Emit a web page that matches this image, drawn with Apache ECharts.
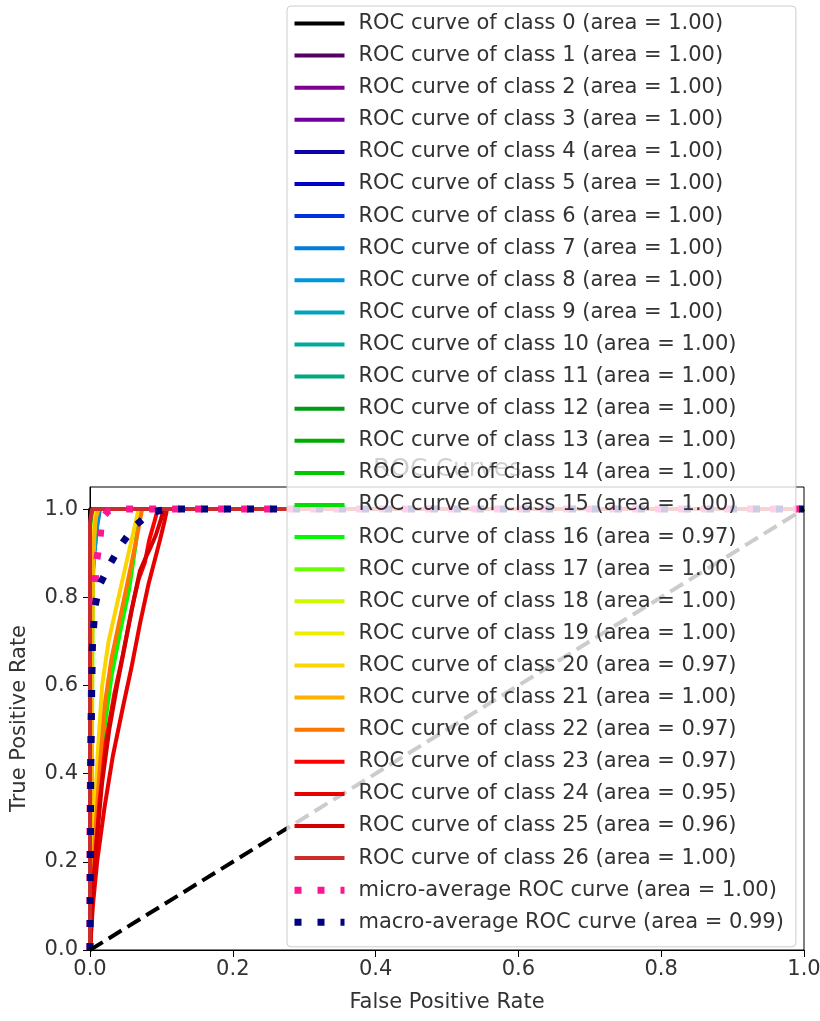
<!DOCTYPE html>
<html><head><meta charset="utf-8">
<script src="https://cdn.jsdelivr.net/npm/echarts@6/dist/echarts.min.js"></script>
<style>html,body{margin:0;padding:0;background:#fff}#c{width:820px;height:1021px}</style>
</head><body><div id="c"></div>
<script>
// ---- data ----
const classAreas = ['1.00','1.00','1.00','1.00','1.00','1.00','1.00','1.00','1.00','1.00',
  '1.00','1.00','1.00','1.00','1.00','1.00','0.97','1.00','1.00','1.00',
  '0.97','1.00','0.97','0.97','0.95','0.96','1.00'];
const microArea = '1.00';
const macroArea = '0.99';
const xTicks = [0, 0.2, 0.4, 0.6, 0.8, 1.0];
const yTicks = [0, 0.2, 0.4, 0.6, 0.8, 1.0];

// [fpr, tpr] points per class
const class0  = [[0,0],[0,1],[1,1]];
const class1  = [[0,0],[0,0.96],[0.002,1],[1,1]];
const class2  = [[0,0],[0,0.9],[0.003,0.97],[0.005,1],[1,1]];
const class3  = [[0,0],[0,0.93],[0.004,1],[1,1]];
const class4  = [[0,0],[0,0.95],[0.003,0.98],[0.006,1],[1,1]];
const class5  = [[0,0],[0,0.88],[0.004,0.96],[0.008,1],[1,1]];
const class6  = [[0,0],[0.001,0.85],[0.005,0.94],[0.01,1],[1,1]];
const class7  = [[0,0],[0.001,0.8],[0.006,0.9],[0.01,0.96],[0.014,1],[1,1]];
const class8  = [[0,0],[0.001,0.7],[0.005,0.88],[0.009,0.95],[0.012,1],[1,1]];
const class9  = [[0,0],[0.001,0.75],[0.004,0.9],[0.008,0.97],[0.011,1],[1,1]];
const class10 = [[0,0],[0.001,0.8],[0.003,0.92],[0.006,0.98],[0.009,1],[1,1]];
const class11 = [[0,0],[0,0.85],[0.003,0.95],[0.007,1],[1,1]];
const class12 = [[0,0],[0.001,0.6],[0.003,0.9],[0.006,0.97],[0.01,1],[1,1]];
const class13 = [[0,0],[0.001,0.7],[0.004,0.94],[0.008,1],[1,1]];
const class14 = [[0,0],[0.002,0.3],[0.003,0.8],[0.005,0.96],[0.009,0.99],[0.012,1],[1,1]];
const class15 = [[0,0],[0.001,0.5],[0.003,0.9],[0.006,0.98],[0.01,1],[1,1]];
const class16 = [[0,0],[0.004,0.12],[0.006,0.2],[0.012,0.35],[0.02,0.5],[0.03,0.62],[0.042,0.72],[0.055,0.82],[0.064,0.92],[0.07,1],[1,1]];
const class17 = [[0,0],[0.002,0.2],[0.004,0.85],[0.007,0.97],[0.01,1],[1,1]];
const class18 = [[0,0],[0.001,0.4],[0.004,0.93],[0.008,0.99],[0.012,1],[1,1]];
const class19 = [[0,0],[0.001,0.3],[0.003,0.9],[0.007,0.98],[0.01,1],[1,1]];
const class20 = [[0,0],[0.002,0.15],[0.006,0.3],[0.011,0.45],[0.017,0.6],[0.026,0.7],[0.04,0.8],[0.054,0.9],[0.064,0.97],[0.068,1],[1,1]];
const class21 = [[0,0],[0.002,0.5],[0.004,0.9],[0.008,0.98],[0.012,1],[1,1]];
const class22 = [[0,0],[0.003,0.12],[0.008,0.28],[0.014,0.42],[0.021,0.56],[0.03,0.66],[0.043,0.76],[0.056,0.86],[0.066,0.94],[0.073,1],[1,1]];
const class23 = [[0,0],[0.003,0.1],[0.007,0.2],[0.013,0.33],[0.022,0.47],[0.034,0.58],[0.046,0.67],[0.058,0.77],[0.068,0.84],[0.077,0.88],[0.083,0.93],[0.09,0.97],[0.095,1],[1,1]];
const class24 = [[0,0],[0.004,0.1],[0.01,0.2],[0.02,0.32],[0.032,0.44],[0.046,0.55],[0.058,0.64],[0.07,0.74],[0.082,0.83],[0.09,0.88],[0.098,0.93],[0.104,0.97],[0.108,1],[1,1]];
const class25 = [[0,0],[0.003,0.12],[0.009,0.24],[0.017,0.38],[0.027,0.5],[0.038,0.6],[0.05,0.7],[0.062,0.8],[0.07,0.86],[0.078,0.89],[0.084,0.91],[0.092,0.94],[0.1,0.98],[0.103,1],[1,1]];
const class26 = [[0,0],[0,0.97],[0.003,1],[1,1]];
const microCurve = [[0,0],[0,0.3],[0.002,0.6],[0.005,0.78],[0.007,0.83],[0.009,0.88],[0.014,0.93],[0.016,0.977],[0.025,0.995],[0.04,1],[1,1]];
const macroCurve = [[0,0],[0.001,0.4],[0.003,0.68],[0.005,0.73],[0.007,0.78],[0.014,0.83],[0.028,0.875],[0.044,0.92],[0.063,0.962],[0.086,0.993],[0.11,1],[1,1]];
const chanceLine = [[0,0],[1,1]];

const classCurves = [class0,class1,class2,class3,class4,class5,class6,class7,class8,class9,
  class10,class11,class12,class13,class14,class15,class16,class17,class18,class19,
  class20,class21,class22,class23,class24,class25,class26];

// ---- nipy_spectral colormap ----
const NS = {
  r: [[0,0],[0.05,0.4667],[0.10,0.5333],[0.15,0],[0.20,0],[0.25,0],[0.30,0],[0.35,0],[0.40,0],[0.45,0],[0.50,0],[0.55,0],[0.60,0],[0.65,0.7333],[0.70,0.9333],[0.75,1],[0.80,1],[0.85,1],[0.90,0.8667],[0.95,0.80],[1,0.80]],
  g: [[0,0],[0.05,0],[0.10,0],[0.15,0],[0.20,0],[0.25,0.4667],[0.30,0.6],[0.35,0.6667],[0.40,0.6667],[0.45,0.6],[0.50,0.7333],[0.55,0.8667],[0.60,1],[0.65,1],[0.70,0.9333],[0.75,0.8],[0.80,0.6],[0.85,0],[0.90,0],[0.95,0],[1,0.80]],
  b: [[0,0],[0.05,0.5333],[0.10,0.6],[0.15,0.6667],[0.20,0.8667],[0.25,0.8667],[0.30,0.8667],[0.35,0.6667],[0.40,0.5333],[0.45,0],[0.5,0],[0.55,0],[0.60,0],[0.65,0],[0.70,0],[0.75,0],[0.80,0],[0.85,0],[0.90,0],[0.95,0],[1,0.80]]
};
function chan(seg, t) {
  for (let k = 1; k < seg.length; k++) {
    if (t <= seg[k][0]) {
      const a = seg[k-1], b = seg[k];
      return a[1] + (b[1]-a[1]) * (t - a[0]) / (b[0] - a[0]);
    }
  }
  return seg[seg.length-1][1];
}
function nipy(t) {
  const q = Math.floor(t * 255) / 255;
  const c = [chan(NS.r,q), chan(NS.g,q), chan(NS.b,q)].map(v => Math.round(v*255));
  return 'rgb(' + c.join(',') + ')';
}

const FONT = 'DejaVu Sans';
const TXT = '#333';
const nClasses = classCurves.length;
const classNames = classAreas.map((a,i) => 'ROC curve of class ' + i + ' (area = ' + a + ')');
const microName = 'micro-average ROC curve (area = ' + microArea + ')';
const macroName = 'macro-average ROC curve (area = ' + macroArea + ')';

const series = classCurves.map((pts, i) => ({
  name: classNames[i], type: 'line', data: pts, symbol: 'none', showSymbol: false,
  lineStyle: { color: nipy(i / nClasses), width: 4 },
  itemStyle: { color: nipy(i / nClasses) },
  z: 2, emphasis: { disabled: true }, animation: false
}));
series.push({
  name: microName, type: 'line', data: microCurve, symbol: 'none',
  lineStyle: { color: '#ff1493', width: 7, type: [7, 16] }, itemStyle: { color: '#ff1493' },
  z: 3, emphasis: { disabled: true }, animation: false
});
series.push({
  name: macroName, type: 'line', data: macroCurve, symbol: 'none',
  lineStyle: { color: '#000080', width: 7, type: [7, 16] }, itemStyle: { color: '#000080' },
  z: 3, emphasis: { disabled: true }, animation: false
});
series.push({
  name: 'chance', type: 'line', data: chanceLine, symbol: 'none',
  lineStyle: { color: '#000', width: 4, type: [15, 7] },
  z: 3, emphasis: { disabled: true }, animation: false, silent: true
});

const legendData = classNames.map(n => ({ name: n }))
  .concat([
    { name: microName, lineStyle: { width: 7 } },
    { name: macroName, lineStyle: { width: 7 } }
  ]);

const chart = echarts.init(document.getElementById('c'), null, { renderer: 'canvas' });
chart.setOption({
  animation: false,
  backgroundColor: '#fff',
  title: {
    text: 'ROC Curves', left: 368, top: 452, z: 1,
    textStyle: { fontFamily: FONT, fontSize: 25, fontWeight: 'normal', color: '#111' }
  },
  grid: {
    left: 90, right: 16, top: 487, bottom: 71, show: true,
    borderColor: '#000', borderWidth: 1, backgroundColor: 'transparent',
    outerBoundsMode: 'none'
  },
  xAxis: {
    type: 'value', min: 0, max: 1, interval: 0.2,
    axisLine: { show: true, onZero: false, lineStyle: { color: '#000', width: 1 } },
    axisTick: { show: true, length: 7, lineStyle: { color: '#000' }, customValues: xTicks },
    axisLabel: { customValues: xTicks, formatter: v => v.toFixed(1), fontFamily: FONT, fontSize: 21, color: TXT, margin: 9 },
    splitLine: { show: false },
    name: 'False Positive Rate', nameLocation: 'middle', nameGap: 42,
    nameTextStyle: { fontFamily: FONT, fontSize: 21, color: TXT }
  },
  yAxis: {
    type: 'value', min: 0, max: 1.05,
    axisLine: { show: true, onZero: false, lineStyle: { color: '#000', width: 1 } },
    axisTick: { show: true, length: 7, lineStyle: { color: '#000' }, customValues: yTicks },
    axisLabel: { customValues: yTicks, formatter: v => v.toFixed(1), fontFamily: FONT, fontSize: 21, color: TXT, margin: 12 },
    splitLine: { show: false },
    name: 'True Positive Rate', nameLocation: 'middle', nameRotate: 90, nameGap: 60,
    nameTextStyle: { fontFamily: FONT, fontSize: 21, color: TXT }
  },
  legend: {
    orient: 'vertical', left: 287, top: 6, z: 10,
    data: legendData,
    itemWidth: 50, itemHeight: 20, itemGap: 11.1,
    padding: [7, 12, 14, 4],
    backgroundColor: 'rgba(255,255,255,0.8)', borderColor: '#cccccc', borderWidth: 1, borderRadius: 4,
    textStyle: { fontFamily: FONT, fontSize: 21, color: TXT, padding: [0, 0, 0, 9] },
    lineStyle: { width: 4 },
    itemStyle: { opacity: 0 },
    selectedMode: false
  },
  series: series
});
</script></body></html>
